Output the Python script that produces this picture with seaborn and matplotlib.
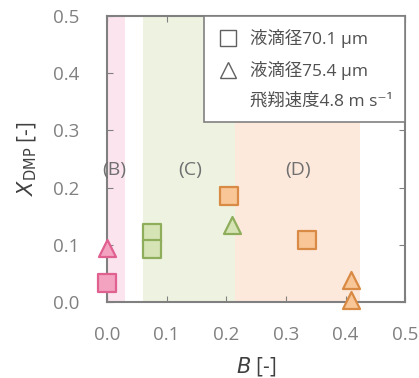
import matplotlib
matplotlib.use("Agg")
import matplotlib.pyplot as plt
import seaborn as sns
import pandas as pd
from matplotlib.lines import Line2D

# data
b_vals = [0.0, 0.0, 0.075, 0.075, 0.205, 0.21, 0.335, 0.41, 0.41]
x_dmp = [0.033, 0.094, 0.12, 0.093, 0.186, 0.134, 0.108, 0.038, 0.004]
drop = ['70.1', '75.4', '70.1', '70.1', '70.1', '75.4', '70.1', '75.4', '75.4']
region = ['B', 'B', 'C', 'C', 'D', 'C', 'D', 'D', 'D']

region_names = ['B', 'C', 'D']
region_lo = [0.0, 0.06, 0.215]
region_hi = [0.03, 0.215, 0.425]
label_x = [0.012, 0.14, 0.32]
label_y = 0.23

shade = {'B': '#fbe4ee', 'C': '#eef3e1', 'D': '#fde9dc'}
fill = {'B': '#f3a3c0', 'C': '#d5e3b5', 'D': '#f8c697'}
edge = {'B': '#e06090', 'C': '#8fae5c', 'D': '#d98a45'}

sns.set_style('ticks')
plt.rcParams['font.family'] = ['Open Sans', 'Noto Sans CJK JP', 'DejaVu Sans']

df = pd.DataFrame({'B': b_vals, 'X': x_dmp, 'drop': drop, 'region': region})

fig = plt.figure(figsize=(4.19, 3.78), dpi=100)
ax = fig.add_axes([0.255, 0.201, 0.712, 0.757])

for name, lo, hi in zip(region_names, region_lo, region_hi):
    ax.axvspan(lo, hi, color=shade[name], zorder=0, lw=0)
for name, lx in zip(region_names, label_x):
    ax.text(lx, label_y, '(' + name + ')', ha='center', va='center',
            fontsize=14, color='#707070')

markers = {'70.1': 's', '75.4': '^'}
for name in region_names:
    for d in ['70.1', '75.4']:
        sub = df[(df['region'] == name) & (df['drop'] == d)]
        if len(sub) == 0:
            continue
        sns.scatterplot(data=sub, x='B', y='X', marker=markers[d], s=150,
                        color=fill[name], edgecolor=edge[name], linewidth=1.6,
                        ax=ax, legend=False, zorder=3, clip_on=False)

ax.set_xlim(0, 0.5)
ax.set_ylim(0, 0.5)
ax.set_xticks([0, 0.1, 0.2, 0.3, 0.4, 0.5])
ax.set_yticks([0, 0.1, 0.2, 0.3, 0.4, 0.5])
ax.tick_params(direction='in', top=True, right=True, length=4, color='#808080',
               labelsize=13.5, labelcolor='#808080')
ax.tick_params(axis='y', pad=20)
ax.tick_params(axis='x', pad=17)
for sp in ax.spines.values():
    sp.set_color('#808080')
    sp.set_linewidth(1.5)
ax.set_xlabel(r'$B$ [-]', fontsize=15, color='#404040', labelpad=8)
ax.set_ylabel(r'$X_{\mathrm{DMP}}$ [-]', fontsize=15, color='#404040', labelpad=10)

handles = [
    Line2D([], [], marker='s', ls='', markersize=11, markerfacecolor='none',
           markeredgecolor='#606060', markeredgewidth=1),
    Line2D([], [], marker='^', ls='', markersize=11, markerfacecolor='none',
           markeredgecolor='#606060', markeredgewidth=1),
    Line2D([], [], ls='', marker=''),
]
labels = ['液滴径70.1 μm', '液滴径75.4 μm', '飛翔速度4.8 m s⁻¹']
leg = ax.legend(handles, labels, loc='upper right', borderaxespad=0,
                fancybox=False, framealpha=1, edgecolor='#808080',
                fontsize=12.5, handletextpad=0.6, labelspacing=0.75,
                borderpad=0.75, handlelength=1.3, labelcolor='#505050')
leg.get_frame().set_linewidth(1.2)
leg.set_zorder(5)

fig.savefig('out.png', dpi=100)
